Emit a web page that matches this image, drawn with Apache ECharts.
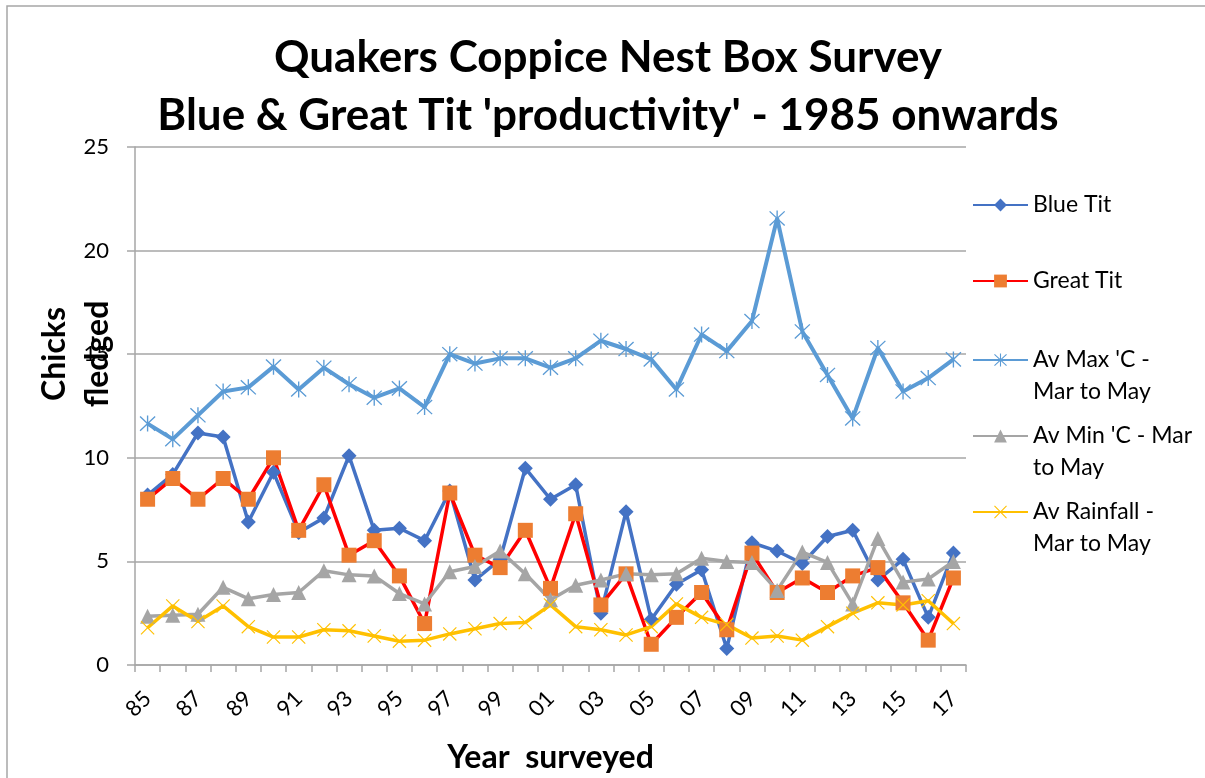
<!DOCTYPE html>
<html>
<head>
<meta charset="utf-8">
<title>Quakers Coppice Nest Box Survey</title>
<script type="text/javascript" src="https://cdn.jsdelivr.net/npm/echarts@6/dist/echarts.min.js"></script>
<style type="text/css">
html, body {margin: 0; padding: 0; background: #fff;}
#main {width: 1205px; height: 778px;}
</style>
</head>
<body>
<div id="main"></div>
<script type="text/javascript">
// years 1985 - 2017, two-digit labels
var years = ['85','86','87','88','89','90','91','92','93','94','95','96','97','98','99','00',
             '01','02','03','04','05','06','07','08','09','10','11','12','13','14','15','16','17'];

var blueTit  = [8.2, 9.2, 11.2, 11.0, 6.9, 9.3, 6.4, 7.1, 10.1, 6.5, 6.6, 6.0, 8.4, 4.1, 5.1, 9.5,
                8.0, 8.7, 2.5, 7.4, 2.2, 3.9, 4.6, 0.8, 5.9, 5.5, 4.9, 6.2, 6.5, 4.1, 5.1, 2.3, 5.4];
var greatTit = [8.0, 9.0, 8.0, 9.0, 8.0, 10.0, 6.5, 8.7, 5.3, 6.0, 4.3, 2.0, 8.3, 5.3, 4.7, 6.5,
                3.7, 7.3, 2.9, 4.4, 1.0, 2.3, 3.5, 1.7, 5.4, 3.5, 4.2, 3.5, 4.3, 4.7, 3.0, 1.2, 4.2];
var avMax    = [11.65, 10.9, 12.05, 13.2, 13.4, 14.4, 13.3, 14.35, 13.55, 12.9, 13.35, 12.45, 15.0, 14.55, 14.8, 14.8,
                14.35, 14.8, 15.65, 15.25, 14.75, 13.3, 15.95, 15.15, 16.6, 21.55, 16.1, 14.0, 11.9, 15.3, 13.2, 13.85, 14.75];
var avMin    = [2.35, 2.4, 2.45, 3.75, 3.2, 3.4, 3.5, 4.55, 4.35, 4.3, 3.45, 2.95, 4.5, 4.75, 5.5, 4.4,
                3.15, 3.85, 4.1, 4.4, 4.35, 4.4, 5.15, 5.0, 4.95, 3.6, 5.45, 4.95, 2.95, 6.1, 4.0, 4.15, 5.0];
var rainfall = [1.8, 2.85, 2.1, 2.85, 1.85, 1.35, 1.35, 1.7, 1.65, 1.4, 1.15, 1.2, 1.5, 1.75, 2.0, 2.05,
                2.9, 1.85, 1.7, 1.45, 1.85, 2.95, 2.3, 1.95, 1.3, 1.4, 1.2, 1.85, 2.5, 3.0, 2.9, 3.1, 2.0];

var seriesNames  = ['Blue Tit', 'Great Tit', "Av Max 'C - Mar to May", "Av Min 'C - Mar to May", 'Av Rainfall - Mar to May'];
// wrapped entries get a blank first line so the key sits on the first text line
var legendLabels = ['Blue Tit', 'Great Tit', " \nAv Max 'C -\nMar to May", " \nAv Min 'C - Mar\nto May", ' \nAv Rainfall -\nMar to May'];
var legendTops   = [189, 265, 312, 388, 464];

var FONT = 'Lato';
var starPath  = 'path://M9.2 0h1.6v20h-1.6z M0.6 1.7l1.1-1.1l17.7 17.7l-1.1 1.1z M18.3 0.6l1.1 1.1l-17.7 17.7l-1.1-1.1z';
var crossPath = 'path://M0.6 1.7l1.1-1.1l17.7 17.7l-1.1 1.1z M18.3 0.6l1.1 1.1l-17.7 17.7l-1.1-1.1z';

var myChart = echarts.init(document.getElementById('main'));

var legends = seriesNames.map(function (name, i) {
    return {
        data: [name],
        left: 972,
        top: legendTops[i],
        padding: 0,
        itemWidth: 55,
        itemHeight: 16,
        itemGap: 5,
        formatter: function () { return legendLabels[i]; },
        textStyle: {fontFamily: FONT, fontSize: 23, color: '#000', lineHeight: 32}
    };
});

var option = {
    backgroundColor: '#fff',
    animation: false,
    title: {
        text: 'Quakers Coppice Nest Box Survey\nBlue & Great Tit \'productivity\' - 1985 onwards',
        left: 608,
        textAlign: 'center',
        top: 29,
        padding: 0,
        textStyle: {fontFamily: FONT, fontSize: 44, fontWeight: 'bold', color: '#000', lineHeight: 58}
    },
    legend: legends,
    graphic: [{
        type: 'rect', silent: true, z: -1,
        shape: {x: 7, y: 6, width: 1300, height: 900},
        style: {fill: 'none', stroke: '#A6A6A6', lineWidth: 1.5}
    }],
    grid: {left: 135, right: 239, top: 147, bottom: 113, outerBoundsMode: 'none', containLabel: false},
    xAxis: {
        type: 'category',
        data: years,
        boundaryGap: true,
        name: 'Year  surveyed',
        nameLocation: 'middle',
        nameGap: 73,
        nameMoveOverlap: false,
        nameTextStyle: {fontFamily: FONT, fontSize: 32, fontWeight: 'bold', color: '#000', lineHeight: 40},
        axisLine: {lineStyle: {color: '#A6A6A6', width: 1.5}},
        axisTick: {show: true, interval: 0, length: 7, lineStyle: {color: '#A6A6A6', width: 1.5}},
        axisLabel: {interval: 1, rotate: 45, margin: 30, fontFamily: FONT, fontSize: 22, color: '#000'}
    },
    yAxis: {
        type: 'value',
        min: 0,
        max: 25,
        interval: 5,
        name: 'Chicks\nfledged',
        nameLocation: 'middle',
        nameRotate: 90,
        nameGap: 16,
        nameMoveOverlap: false,
        nameTextStyle: {fontFamily: FONT, fontSize: 32, fontWeight: 'bold', color: '#000', lineHeight: 43,
                        padding: [0, 0, 0, 104]},
        axisLine: {show: true, lineStyle: {color: '#A6A6A6', width: 1.5}},
        axisTick: {show: true, length: 8, lineStyle: {color: '#A6A6A6', width: 1.5}},
        axisLabel: {margin: 26, fontFamily: FONT, fontSize: 22, color: '#000'},
        splitLine: {lineStyle: {color: '#A6A6A6', width: 1.5}}
    },
    series: [
        {
            name: seriesNames[0], type: 'line', data: blueTit,
            symbol: 'diamond', symbolSize: 15,
            lineStyle: {color: '#4472C4', width: 3.5},
            itemStyle: {color: '#4472C4'}
        },
        {
            name: seriesNames[1], type: 'line', data: greatTit,
            symbol: 'rect', symbolSize: 15,
            lineStyle: {color: '#FF0000', width: 3.5},
            itemStyle: {color: '#ED7D31'}
        },
        {
            name: seriesNames[2], type: 'line', data: avMax,
            symbol: starPath, symbolSize: 16,
            lineStyle: {color: '#5B9BD5', width: 4},
            itemStyle: {color: '#5B9BD5'}
        },
        {
            name: seriesNames[3], type: 'line', data: avMin,
            symbol: 'triangle', symbolSize: 15,
            lineStyle: {color: '#A5A5A5', width: 3.5},
            itemStyle: {color: '#A5A5A5'}
        },
        {
            name: seriesNames[4], type: 'line', data: rainfall,
            symbol: crossPath, symbolSize: 14,
            lineStyle: {color: '#FFC000', width: 3.5},
            itemStyle: {color: '#FFC000'}
        }
    ]
};

myChart.setOption(option);
</script>
</body>
</html>
